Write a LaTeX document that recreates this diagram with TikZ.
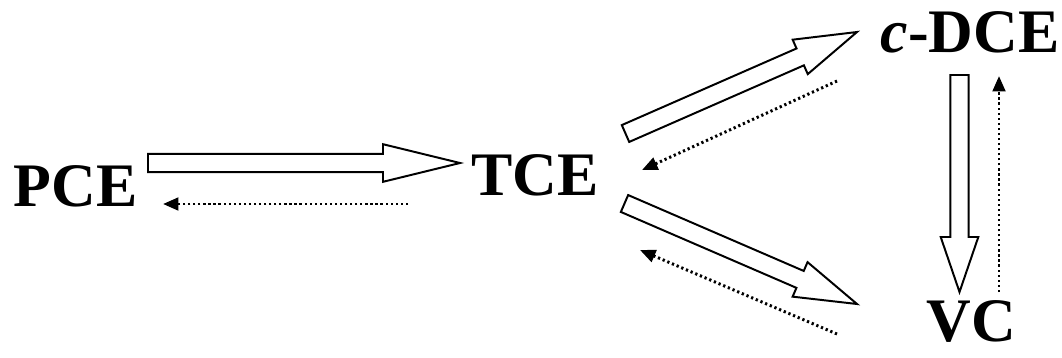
\documentclass[tikz,border=0pt]{standalone}
\usepackage{fontspec}
\setmainfont{Liberation Serif}
\usetikzlibrary{arrows.meta,calc}

\begin{document}
\begin{tikzpicture}[
    x=0.025cm, y=-0.025cm,
    term/.style={font=\fontsize{44}{48}\selectfont\bfseries, inner sep=0pt, anchor=base},
    hollow/.style={draw, line width=1.4pt, line join=miter, to path={
      ($(\tikztostart)!0.23cm!90:(\tikztotarget)$)
      -- ($(\tikztotarget)!#1!(\tikztostart)!0.23cm!90:(\tikztotarget)$)
      -- ($(\tikztotarget)!#1!(\tikztostart)!0.47cm!90:(\tikztotarget)$)
      -- (\tikztotarget)
      -- ($(\tikztotarget)!#1!(\tikztostart)!0.47cm!-90:(\tikztotarget)$)
      -- ($(\tikztotarget)!#1!(\tikztostart)!0.23cm!-90:(\tikztotarget)$)
      -- ($(\tikztostart)!0.23cm!-90:(\tikztotarget)$) -- cycle}},
    hollow/.default=1.55cm,
    ret/.style={line width=2.1pt, dash pattern=on 1.6pt off 2pt, -{Triangle[length=11pt,width=9pt]}}
  ]
    \useasboundingbox (0,0) rectangle (1062,357);

    \node[term] (pce) at (75.5,206) {PCE};
    \node[term] (tce) at (535,195) {TCE};
    \node[term] (dce) at (970,52) {\textit{c}-DCE};
    \node[term] (vc) at (971.5,341) {VC};

    % ends of the arrows
    \coordinate (pce-out) at (148,163);
    \coordinate (tce-in) at (460,163);
    \coordinate (tce-back) at (408,204);
    \coordinate (pce-in) at (163,204);
    \coordinate (tce-up) at (625.5,133.5);
    \coordinate (dce-in) at (857,32);
    \coordinate (dce-out) at (837,81);
    \coordinate (tce-in1) at (642,170);
    \coordinate (tce-down) at (624.5,203.5);
    \coordinate (vc-in) at (857,304);
    \coordinate (vc-out) at (837,334);
    \coordinate (tce-in2) at (640,250);
    \coordinate (dce-down) at (959.5,75);
    \coordinate (vc-top) at (959.5,292);
    \coordinate (vc-up) at (999,292);
    \coordinate (dce-bot) at (999,76);

    \draw[hollow=1.925cm] (pce-out) to (tce-in);
    \draw[hollow] (tce-up) to (dce-in);
    \draw[hollow] (tce-down) to (vc-in);
    \draw[hollow=1.375cm] (dce-down) to (vc-top);

    \draw[ret] (tce-back) -- (pce-in);
    \draw[ret] (dce-out) -- (tce-in1);
    \draw[ret] (vc-out) -- (tce-in2);
    \draw[ret] (vc-up) -- (dce-bot);
  \end{tikzpicture}
\end{document}
